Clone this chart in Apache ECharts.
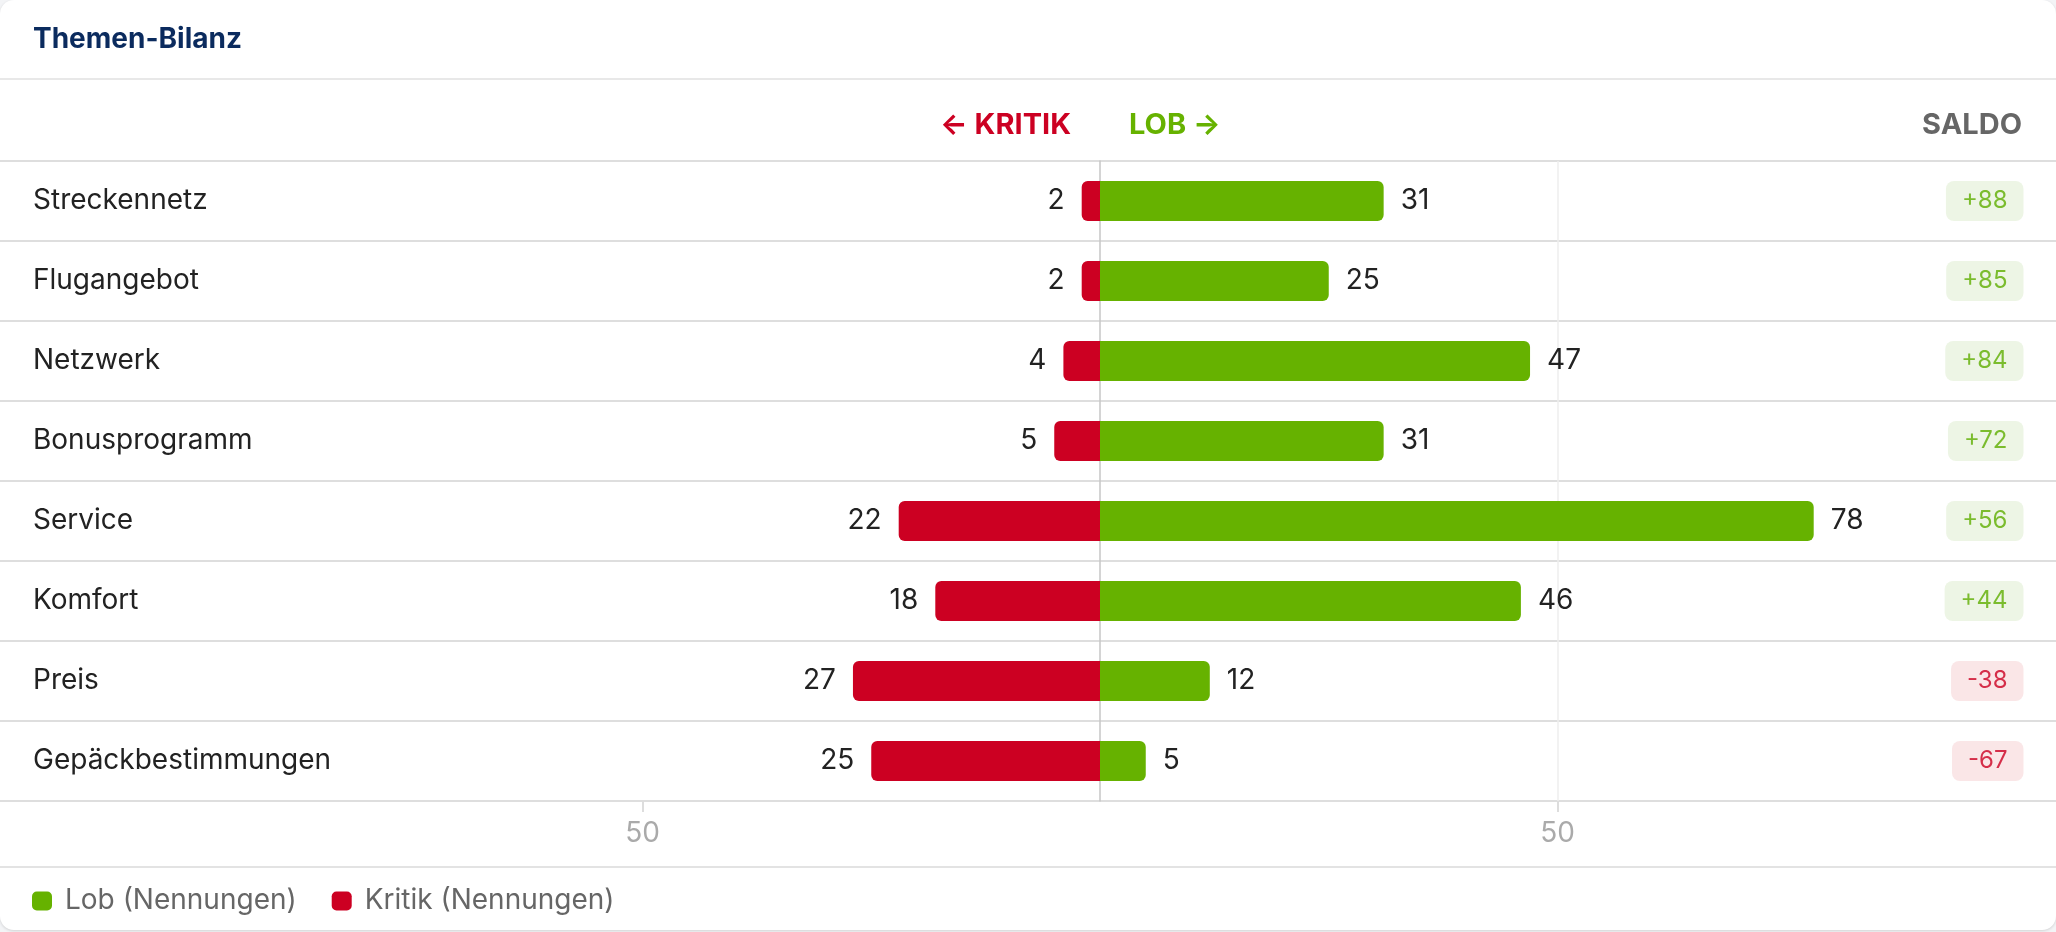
<!DOCTYPE html>
<html>
<head>
<meta charset="utf-8">
<script src="https://cdn.jsdelivr.net/npm/echarts@6/dist/echarts.min.js"></script>
<style>
  html, body { margin: 0; padding: 0; background: #f3f4f6; }
  #card { position: absolute; left: 0; top: 0; width: 2056px; height: 930px; background: #fff;
          border-radius: 14px; box-shadow: 0 1px 3px rgba(0,0,0,0.14); overflow: hidden; }
  #chart { width: 2056px; height: 930px; }
</style>
</head>
<body>
<div id="card"><div id="chart"></div></div>
<script>
const categories = ['Streckennetz', 'Flugangebot', 'Netzwerk', 'Bonusprogramm', 'Service', 'Komfort', 'Preis', 'Gepäckbestimmungen'];
const lob = [31, 25, 47, 31, 78, 46, 12, 5];
const kritik = [2, 2, 4, 5, 22, 18, 27, 25];
const saldo = [88, 85, 84, 72, 56, 44, -38, -67];
const xTickValues = [-50, 50];

const GREEN = '#66b200';
const RED = '#cc0022';
const FONT = 'Inter, "Noto Sans", sans-serif';

const chart = echarts.init(document.getElementById('chart'));
chart.setOption({
  animation: false,
  textStyle: { fontFamily: FONT },
  title: [
    { text: 'Themen-Bilanz', left: 33, top: 26, padding: 0,
      textStyle: { fontFamily: FONT, fontSize: 28, fontWeight: 700, color: '#0b2b5e' } },
    { text: '← KRITIK', right: 985, top: 111, padding: 0,
      textStyle: { fontFamily: FONT, fontSize: 29, fontWeight: 700, color: RED } },
    { text: 'LOB →', left: 1129, top: 111, padding: 0,
      textStyle: { fontFamily: FONT, fontSize: 29, fontWeight: 700, color: GREEN } },
    { text: 'SALDO', right: 34, top: 111, padding: 0,
      textStyle: { fontFamily: FONT, fontSize: 29, fontWeight: 700, color: '#666666' } }
  ],
  legend: {
    data: ['Lob (Nennungen)', 'Kritik (Nennungen)'],
    left: 32, top: 887, padding: 0,
    icon: 'roundRect', itemWidth: 20, itemHeight: 19, itemGap: 35,
    textStyle: { fontFamily: FONT, fontSize: 28, color: '#666666', padding: [0, 0, 0, 8] }
  },
  graphic: [
    { type: 'line', shape: { x1: 0, y1: 79, x2: 2056, y2: 79 }, style: { stroke: '#e8e8e8', lineWidth: 2 }, silent: true },
    { type: 'line', shape: { x1: 0, y1: 867, x2: 2056, y2: 867 }, style: { stroke: '#e3e3e3', lineWidth: 2 }, silent: true }
  ],
  grid: [
    { left: 185, right: 41, top: 161, bottom: 129 },
    { left: 0, right: 0, top: 161, bottom: 129 }
  ],
  xAxis: [
    { type: 'value', gridIndex: 0, min: -100, max: 100, interval: 50,
      axisLine: { show: false },
      axisTick: { show: true, customValues: xTickValues, length: 11, lineStyle: { color: '#dddddd', width: 2 } },
      axisLabel: { show: true, customValues: xTickValues, margin: 19, fontFamily: FONT, fontSize: 28, color: '#aaaaaa',
                   formatter: v => String(Math.abs(v)) },
      splitLine: { show: true, lineStyle: { color: ['rgba(0,0,0,0)', '#eeeeee', 'rgba(0,0,0,0)', '#eeeeee', 'rgba(0,0,0,0)'], width: 1.5 } }
    },
    { type: 'value', gridIndex: 1, min: 0, max: 1, show: false }
  ],
  yAxis: [
    { type: 'category', gridIndex: 0, data: categories, inverse: true,
      axisLabel: { show: false }, axisTick: { show: false },
      axisLine: { show: true, onZero: true, lineStyle: { color: '#c6c6c6', width: 1.5 } },
      splitLine: { show: false } },
    { type: 'category', gridIndex: 1, data: categories, inverse: true,
      axisLine: { show: false }, axisTick: { show: false },
      axisLabel: { show: true, inside: true, margin: 33, fontFamily: FONT, fontSize: 28, color: '#222222',
                   padding: [4, 0, 0, 0] },
      splitLine: { show: true, lineStyle: { color: '#dedede', width: 2 } } }
  ],
  series: [
    { name: 'Lob (Nennungen)', type: 'bar', stack: 'b', xAxisIndex: 0, yAxisIndex: 0,
      data: lob, barWidth: 40, color: GREEN,
      itemStyle: { color: GREEN, borderRadius: [0, 6, 6, 0] },
      label: { show: true, position: 'right', distance: 17, fontFamily: FONT, fontSize: 28, color: '#222222',
               padding: [4, 0, 0, 0] },
      emphasis: { disabled: true } },
    { name: 'Kritik (Nennungen)', type: 'bar', stack: 'b', xAxisIndex: 0, yAxisIndex: 0,
      data: kritik.map(v => -v), barWidth: 40, color: RED,
      itemStyle: { color: RED, borderRadius: [6, 0, 0, 6] },
      label: { show: true, position: 'left', distance: 17, fontFamily: FONT, fontSize: 28, color: '#222222',
               padding: [4, 0, 0, 0],
               formatter: p => String(Math.abs(p.value)) },
      emphasis: { disabled: true } },
    { name: 'Saldo', type: 'scatter', xAxisIndex: 1, yAxisIndex: 1,
      symbolSize: 1, itemStyle: { color: 'rgba(0,0,0,0)' }, silent: true,
      data: saldo.map((v, i) => ({
        value: [1, categories[i]],
        label: {
          color: v >= 0 ? '#5fae00' : '#cc0022',
          backgroundColor: v >= 0 ? '#e9f3df' : '#f9e0e1'
        }
      })),
      label: { show: true, position: 'left', distance: 32, fontFamily: FONT, fontSize: 24, lineHeight: 24,
               padding: [9, 16, 7, 16], borderRadius: 8,
               formatter: p => (saldo[p.dataIndex] > 0 ? '+' : '') + saldo[p.dataIndex] },
      emphasis: { disabled: true } }
  ]
});
</script>
</body>
</html>
